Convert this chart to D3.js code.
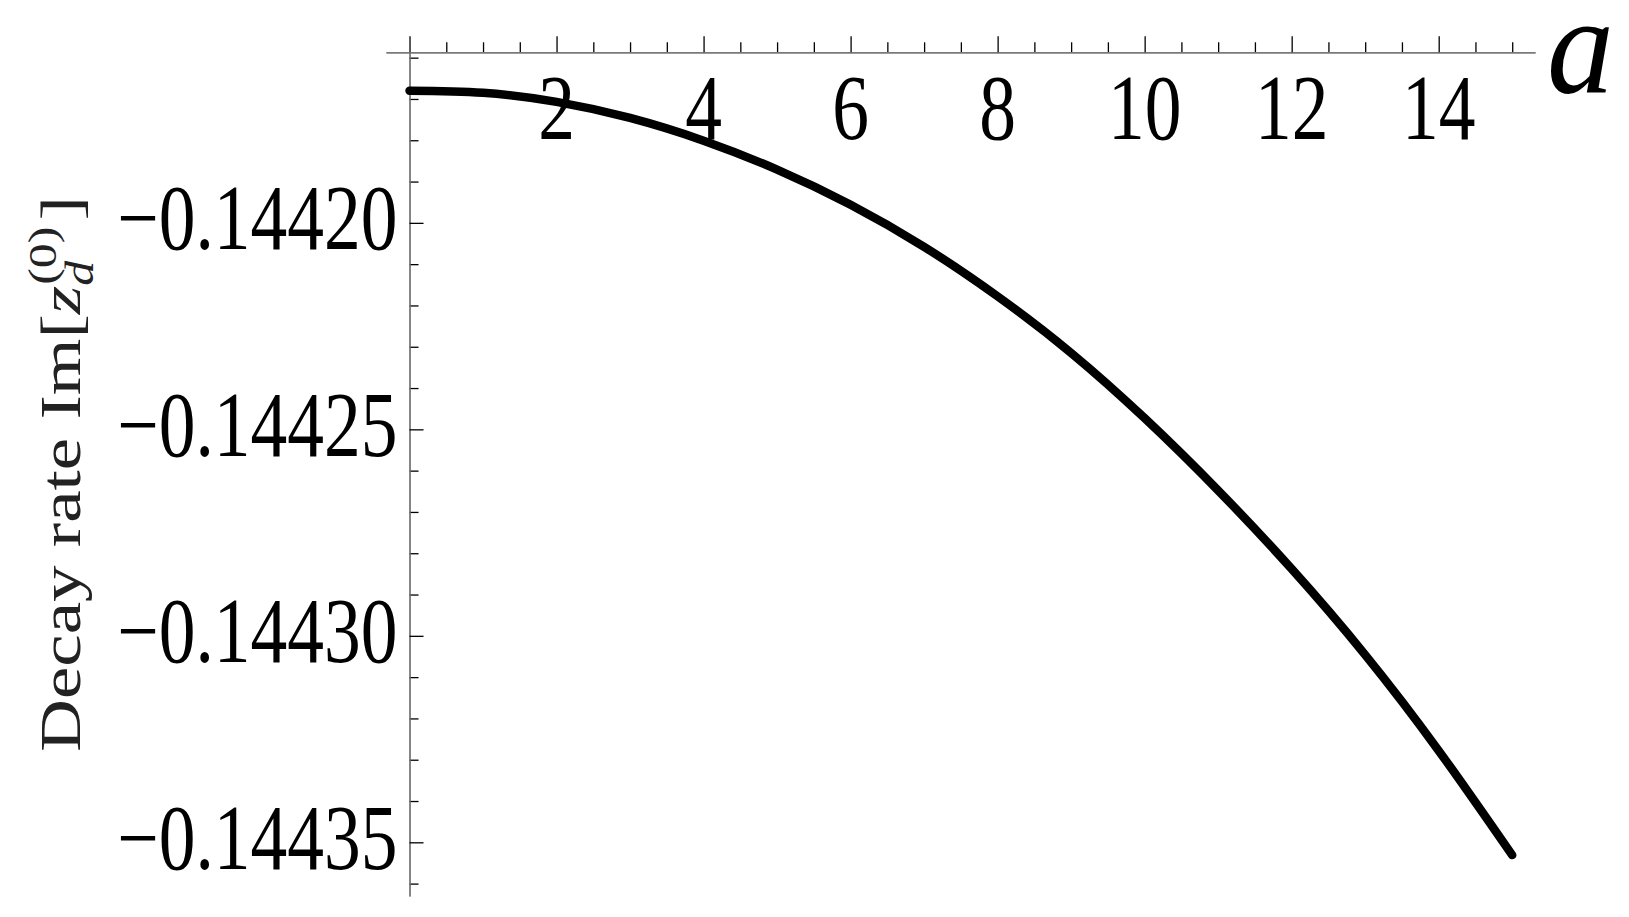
<!DOCTYPE html>
<html><head><meta charset="utf-8">
<script src="https://cdn.jsdelivr.net/npm/d3@7"></script>
<style>html,body{margin:0;padding:0;background:#fff;} svg{display:block;background:#fff}</style>
</head><body>
<svg id="chart" width="1629" height="917"></svg>
<script>
// ---- data ----
const aValues   = [0,1,2,3,4,5,6,7,8,9,10,11,12,13,14,15];
const decayRate = [-0.1441680,-0.1441685,-0.1441707,-0.1441746,-0.1441801,-0.1441871,
                   -0.1441956,-0.1442058,-0.1442178,-0.1442315,-0.1442473,-0.1442648,
                   -0.1442838,-0.1443046,-0.1443278,-0.1443531];
const xMajorTicks = [0,2,4,6,8,10,12,14];
const xTickLabels = ["","2","4","6","8","10","12","14"];
const xMinorTicks = [0.5,1,1.5,2.5,3,3.5,4.5,5,5.5,6.5,7,7.5,8.5,9,9.5,10.5,11,11.5,12.5,13,13.5,14.5,15];
const yMajorTicks = [-0.14420,-0.14425,-0.14430,-0.14435];
const yTickLabels = ["\u22120.14420","\u22120.14425","\u22120.14430","\u22120.14435"];
const yMinorTicks = [-0.14416,-0.14417,-0.14418,-0.14419,-0.14421,-0.14422,-0.14423,-0.14424,
                     -0.14426,-0.14427,-0.14428,-0.14429,-0.14431,-0.14432,-0.14433,-0.14434,-0.14436];
const xAxisLabel = "a";

// ---- layout ----
const svg = d3.select("#chart");
const x = d3.scaleLinear().domain([-0.32, 15.31]).range([386, 1535]);
const y = d3.scaleLinear().domain([-0.144363, -0.1441587]).range([896, 52.3]);
const axisY0 = y.range()[1];
const axisX0 = x(0);
const FONT = "'Liberation Serif','Times New Roman',serif";
const SQ = 0.79;

// x axis (ticks pointing up)
const gx = svg.append("g").attr("transform", `translate(0,${axisY0})`);
gx.append("g").call(d3.axisTop(x).tickValues(xMinorTicks).tickSize(10).tickSizeOuter(0).tickFormat(""));
gx.append("g").call(d3.axisTop(x).tickValues(xMajorTicks).tickSize(16).tickSizeOuter(0).tickFormat(""));
gx.selectAll(".domain").attr("stroke", "#7a7a7a").attr("stroke-width", 1.4);
gx.selectAll(".tick line").attr("stroke", "#000").attr("stroke-width", 1.3);

// y axis (ticks pointing right)
const gy = svg.append("g").attr("transform", `translate(${axisX0},0)`);
gy.append("g").call(d3.axisRight(y).tickValues(yMinorTicks).tickSize(9).tickSizeOuter(0).tickFormat(""));
gy.append("g").call(d3.axisRight(y).tickValues(yMajorTicks).tickSize(14).tickSizeOuter(0).tickFormat(""));
gy.selectAll(".domain").attr("stroke", "#7a7a7a").attr("stroke-width", 1.4);
gy.selectAll(".tick line").attr("stroke", "#000").attr("stroke-width", 1.3);

// x tick labels
svg.append("g").selectAll("text").data(xMajorTicks.map((v,i)=>({v,l:xTickLabels[i]})).filter(d=>d.l))
  .join("text")
  .attr("transform", d => `translate(${x(d.v)},${axisY0 + 87}) scale(${SQ},1)`)
  .attr("text-anchor", "middle")
  .attr("font-family", FONT).attr("font-size", 93).attr("fill", "#000")
  .text(d => d.l);

// y tick labels
svg.append("g").selectAll("text").data(yMajorTicks.map((v,i)=>({v,l:yTickLabels[i]})))
  .join("text")
  .attr("transform", d => `translate(${axisX0 - 12},${y(d.v) + 26.5}) scale(${SQ},1)`)
  .attr("text-anchor", "end")
  .attr("font-family", FONT).attr("font-size", 93).attr("fill", "#000")
  .text(d => d.l);

// x axis label
svg.append("text")
  .attr("transform", "translate(1547,93) scale(1.08,1.12)")
  .attr("font-family", FONT).attr("font-style", "italic").attr("font-size", 124)
  .attr("fill", "#000")
  .text(xAxisLabel);

// y axis label (rotated)
const yl = svg.append("text")
  .attr("transform", `translate(80,474) scale(${SQ},1) rotate(-90)`)
  .attr("text-anchor", "middle")
  .attr("font-family", FONT).attr("font-size", 73).attr("fill", "#222");
yl.append("tspan").text("Decay rate Im[");
yl.append("tspan").attr("font-style", "italic").text("z");
yl.append("tspan").attr("font-style", "italic").attr("font-size", 50).attr("dy", 16).text("d");
yl.append("tspan").attr("font-size", 50).attr("dx", -24).attr("dy", -46).text("(0)");
yl.append("tspan").attr("dy", 30).attr("dx", 6).text("]");

// curve
const line = d3.line().x((d,i) => x(aValues[i])).y(d => y(d)).curve(d3.curveNatural);
svg.append("path").datum(decayRate)
  .attr("d", line)
  .attr("fill", "none").attr("stroke", "#000").attr("stroke-width", 8.5)
  .attr("stroke-linecap", "round").attr("stroke-linejoin", "round");
</script>
</body></html>
